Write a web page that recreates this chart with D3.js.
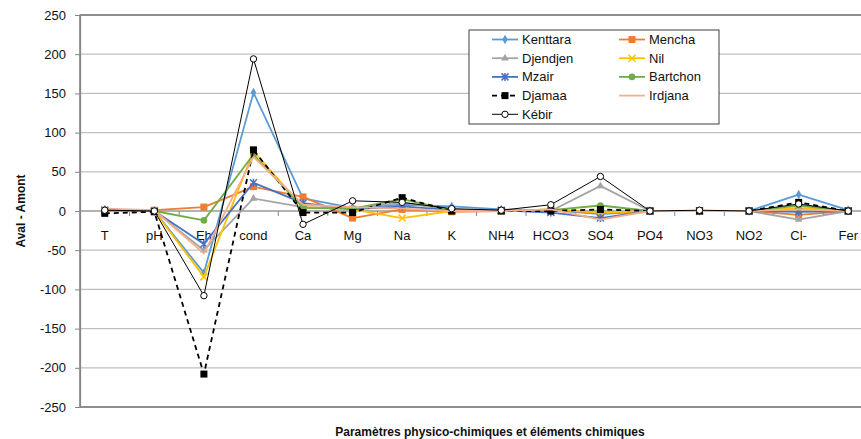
<!DOCTYPE html>
<html>
<head>
<meta charset="utf-8">
<script src="https://cdn.jsdelivr.net/npm/d3@7"></script>
<style>
  body { margin: 0; background: #fff; }
  svg { display: block; font-family: "Liberation Sans", Arial, sans-serif; }
  .axis text { fill: #111; font-size: 13px; }
  .title { font-weight: bold; font-size: 12px; fill: #111; }
</style>
</head>
<body>
<svg width="861" height="439"></svg>
<script>
// categories on the x axis
const categories = ["T", "pH", "Eh", "cond", "Ca", "Mg", "Na", "K", "NH4", "HCO3", "SO4", "PO4", "NO3", "NO2", "Cl-", "Fer"];

// series values (Aval - Amont)
const kenttara = [2, 0, -79, 151, 16, 4, 8, 6, 2, 1, -4, 0, 0, 0, 21, 1];
const mencha   = [1, 1, 5, 31, 18, -9, 2, -1, 0, 2, -3, 0, 0, 0, -5, 0];
const djendjen = [1, 0, -50, 16, 5, 3, 11, 1, 0, 0, 32, 0, 0, 0, -11, 0];
const nil      = [1, 0, -84, 76, 5, 2, -9, 0, 0, 2, -2, 0, 0, 0, 4, 0];
const mzair    = [1, 0, -42, 36, 10, 2, 6, 1, 1, -2, -9, 0, 0, 0, -1, 0];
const bartchon = [1, 0, -12, 72, 4, 3, 15, 1, 0, 1, 7, 0, 0, 0, 7, 0];
const djamaa   = [-3, -1, -208, 78, -2, -2, 17, 0, 0, 0, 2, 0, 0, 0, 11, 0];
const irdjana  = [3, 1, -54, 69, 8, 5, 3, 0, 0, 2, -11, 0, 0, 0, 2, 0];
const kebir    = [1, 0, -108, 194, -17, 13, 11, 3, 1, 8, 44, 0, 1, 0, 9, 0];

// y tick values
const yTicks = [-250, -200, -150, -100, -50, 0, 50, 100, 150, 200, 250];

// series styles
const series = [
  { name: "Kenttara", values: kenttara, color: "#5B9BD5", marker: "diamond" },
  { name: "Mencha",   values: mencha,   color: "#ED7D31", marker: "square" },
  { name: "Djendjen", values: djendjen, color: "#A5A5A5", marker: "triangle" },
  { name: "Nil",      values: nil,      color: "#FFC000", marker: "x" },
  { name: "Mzair",    values: mzair,    color: "#4472C4", marker: "star" },
  { name: "Bartchon", values: bartchon, color: "#70AD47", marker: "circle" },
  { name: "Djamaa",   values: djamaa,   color: "#000000", marker: "bsquare", dash: "5,4" },
  { name: "Irdjana",  values: irdjana,  color: "#F4AE8E", marker: "none" },
  { name: "Kébir",    values: kebir,    color: "#000000", marker: "hollow", width: 1 }
];

// plot area
const plotLeft = 80, plotTop = 15, plotW = 793, plotH = 392;

const svg = d3.select("svg");

const x = d3.scaleBand()
  .domain(categories)
  .range([plotLeft, plotLeft + plotW]);
const y = d3.scaleLinear()
  .domain([-250, 250])
  .range([plotTop + plotH, plotTop]);

// gridlines
svg.append("g")
  .selectAll("line")
  .data(yTicks)
  .join("line")
  .attr("x1", plotLeft)
  .attr("x2", plotLeft + plotW)
  .attr("y1", d => y(d))
  .attr("y2", d => y(d))
  .attr("stroke", "#BFBFBF")
  .attr("stroke-width", 1.2);

// plot border
svg.append("rect")
  .attr("x", plotLeft)
  .attr("y", plotTop)
  .attr("width", plotW)
  .attr("height", plotH)
  .attr("fill", "none")
  .attr("stroke", "#595959")
  .attr("stroke-width", 1.2);

// y axis (plain hyphen for negatives, as in the original)
const yAxis = svg.append("g")
  .attr("class", "axis")
  .attr("transform", "translate(" + plotLeft + ",0)")
  .call(d3.axisLeft(y)
    .tickValues(yTicks)
    .tickFormat(d => String(d))
    .tickSize(5)
    .tickPadding(9));
yAxis.select(".domain").attr("stroke", "#868686").attr("stroke-width", 1.2);
yAxis.selectAll(".tick line").attr("stroke", "#868686");

// x axis at zero: ticks at category boundaries
const zeroY = y(0);
svg.append("line")
  .attr("x1", plotLeft)
  .attr("x2", plotLeft + plotW)
  .attr("y1", zeroY)
  .attr("y2", zeroY)
  .attr("stroke", "#868686")
  .attr("stroke-width", 1.2);
svg.append("g")
  .selectAll("line")
  .data(categories.slice(1))
  .join("line")
  .attr("x1", d => x(d))
  .attr("x2", d => x(d))
  .attr("y1", zeroY)
  .attr("y2", zeroY + 5)
  .attr("stroke", "#868686");
svg.append("g")
  .attr("class", "axis")
  .selectAll("text")
  .data(categories)
  .join("text")
  .attr("x", d => x(d) + x.bandwidth() / 2)
  .attr("y", zeroY + 29)
  .attr("text-anchor", "middle")
  .text(d => d);

// markers
function drawMarker(g, type, color, cx, cy) {
  if (type === "diamond") {
    g.append("path").attr("d", d3.symbol(d3.symbolDiamond, 26)())
      .attr("transform", `translate(${cx},${cy})`).attr("fill", color);
  } else if (type === "square") {
    g.append("rect").attr("x", cx - 3.5).attr("y", cy - 3.5).attr("width", 7).attr("height", 7).attr("fill", color);
  } else if (type === "bsquare") {
    g.append("rect").attr("x", cx - 3.5).attr("y", cy - 3.5).attr("width", 7).attr("height", 7).attr("fill", "#000");
  } else if (type === "triangle") {
    g.append("path").attr("d", d3.symbol(d3.symbolTriangle, 26)())
      .attr("transform", `translate(${cx},${cy})`).attr("fill", color);
  } else if (type === "x") {
    g.append("path").attr("d", `M${cx - 3.5},${cy - 3.5}L${cx + 3.5},${cy + 3.5}M${cx - 3.5},${cy + 3.5}L${cx + 3.5},${cy - 3.5}`)
      .attr("stroke", color).attr("stroke-width", 1.5);
  } else if (type === "star") {
    g.append("path").attr("d", `M${cx - 3.5},${cy - 3.5}L${cx + 3.5},${cy + 3.5}M${cx - 3.5},${cy + 3.5}L${cx + 3.5},${cy - 3.5}M${cx},${cy - 4}L${cx},${cy + 4}`)
      .attr("stroke", color).attr("stroke-width", 1.5);
  } else if (type === "circle") {
    g.append("circle").attr("cx", cx).attr("cy", cy).attr("r", 3.3).attr("fill", color);
  } else if (type === "hollow") {
    g.append("circle").attr("cx", cx).attr("cy", cy).attr("r", 3.2)
      .attr("fill", "#fff").attr("stroke", "#000").attr("stroke-width", 1);
  }
}

// lines
const line = d3.line()
  .x((d, i) => x(categories[i]) + x.bandwidth() / 2)
  .y(d => y(d));

series.forEach(s => {
  const g = svg.append("g");
  g.append("path")
    .datum(s.values)
    .attr("d", line)
    .attr("fill", "none")
    .attr("stroke", s.color)
    .attr("stroke-width", s.width || 1.8)
    .attr("stroke-dasharray", s.dash || null)
    .attr("stroke-linejoin", "round");
  s.values.forEach((v, i) => {
    drawMarker(g, s.marker, s.color, x(categories[i]) + x.bandwidth() / 2, y(v));
  });
});

// legend
const legend = svg.append("g");
legend.append("rect")
  .attr("x", 469)
  .attr("y", 30)
  .attr("width", 250)
  .attr("height", 94)
  .attr("fill", "#fff")
  .attr("stroke", "#404040")
  .attr("stroke-width", 1);
series.forEach((s, i) => {
  const col = i % 2, row = Math.floor(i / 2);
  const lx = col === 0 ? 492 : 619;
  const ly = 39.5 + row * 18.7;
  const g = legend.append("g");
  g.append("line")
    .attr("x1", lx).attr("x2", lx + 26)
    .attr("y1", ly).attr("y2", ly)
    .attr("stroke", s.color)
    .attr("stroke-width", s.width || 1.8)
    .attr("stroke-dasharray", s.dash || null);
  drawMarker(g, s.marker, s.color, lx + 13, ly);
  g.append("text")
    .attr("x", lx + 30)
    .attr("y", ly + 4.5)
    .attr("font-size", 13)
    .attr("fill", "#111")
    .text(s.name);
});

// axis titles
svg.append("text")
  .attr("class", "title")
  .attr("transform", "translate(25," + (plotTop + plotH / 2) + ") rotate(-90)")
  .attr("text-anchor", "middle")
  .text("Aval - Amont");
svg.append("text")
  .attr("class", "title")
  .attr("x", 490)
  .attr("y", 436)
  .attr("text-anchor", "middle")
  .text("Paramètres physico-chimiques et éléments chimiques");
</script>
</body>
</html>
